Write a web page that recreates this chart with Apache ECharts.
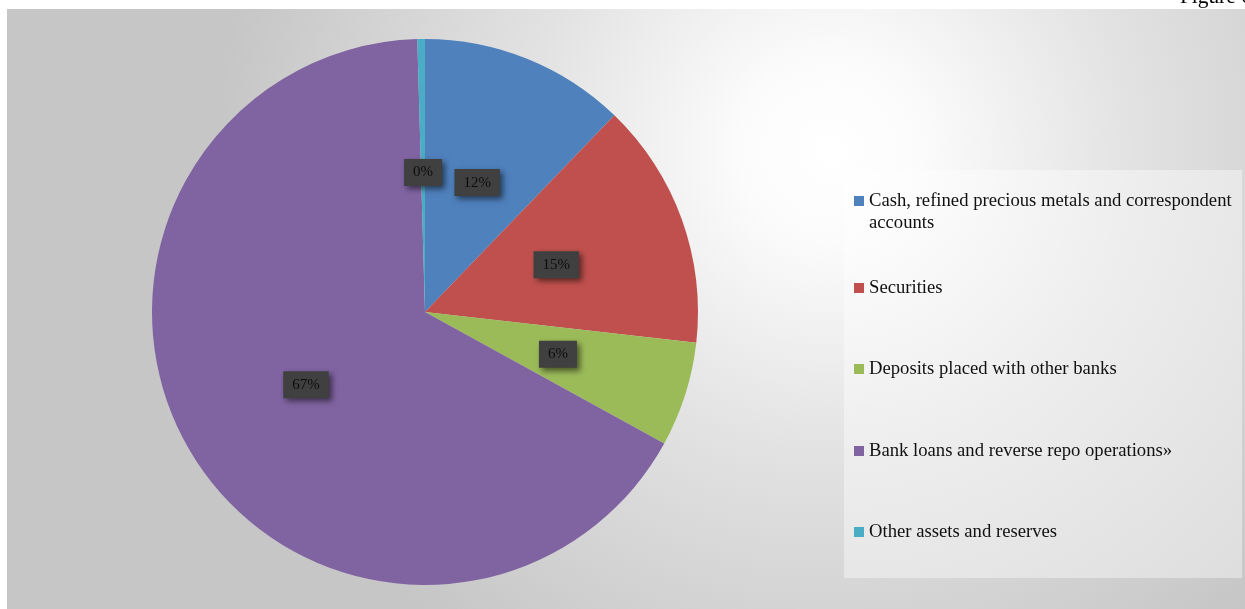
<!DOCTYPE html>
<html>
<head>
<meta charset="utf-8">
<script src="https://cdn.jsdelivr.net/npm/echarts@6/dist/echarts.min.js"></script>
<style>
  html, body { margin: 0; padding: 0; background: #ffffff; }
  #chart { width: 1245px; height: 609px; }
</style>
</head>
<body>
<div id="chart"></div>
<script>
// Asset structure categories and their shares (%)
const categories = [
  'Cash, refined precious metals and correspondent accounts',
  'Securities',
  'Deposits placed with other banks',
  'Bank loans and reverse repo operations»',
  'Other assets and reserves'
];
const shares = [12.2, 14.6, 6.2, 66.55, 0.45];
const sliceColors = ['#4f81bd', '#c0504d', '#9bbb59', '#8064a2', '#4bacc6'];
const figureTitle = 'Figure 6';

const serif = '"Liberation Serif", "DejaVu Serif", serif';
const legendTops = [190, 277, 358, 440, 521];

const chart = echarts.init(document.getElementById('chart'), null, { renderer: 'canvas' });

// One legend block per entry; the first entry wraps onto two lines, so its
// icon path carries extra empty height to keep the square level with line one.
const legends = categories.map((name, i) => ({
  orient: 'vertical',
  left: 854,
  top: legendTops[i],
  padding: 0,
  itemWidth: 10,
  itemHeight: i === 0 ? 42 : 10,
  icon: i === 0 ? 'path://M0,0M0,5h10v10h-10zM10,42' : 'rect',
  selectedMode: false,
  data: [name],
  textStyle: {
    fontFamily: serif,
    fontSize: 18.67,
    lineHeight: 22,
    color: '#111111',
    width: 372,
    overflow: 'break'
  }
}));

chart.setOption({
  animation: false,
  graphic: [
    {
      type: 'rect',
      z: -10,
      shape: { x: 7, y: 9, width: 1238, height: 600 },
      style: {
        fill: new echarts.graphic.RadialGradient(830, 150, 610, [
          { offset: 0, color: '#ffffff' },
          { offset: 0.15, color: '#fbfbfb' },
          { offset: 0.5, color: '#e2e2e2' },
          { offset: 1, color: '#c6c6c6' }
        ], true)
      },
      silent: true
    },
    {
      type: 'rect',
      z: -5,
      shape: { x: 844, y: 170, width: 398, height: 408 },
      style: { fill: 'rgba(255,255,255,0.4)' },
      silent: true
    },
    {
      type: 'text',
      left: 1180,
      top: -13,
      style: {
        text: figureTitle,
        fontFamily: serif,
        fontSize: 21.33,
        fill: '#000000'
      },
      silent: true
    }
  ],
  color: sliceColors,
  legend: legends,
  series: [{
    type: 'pie',
    center: [425, 312],
    radius: 273,
    startAngle: 90,
    clockwise: true,
    percentPrecision: 0,
    avoidLabelOverlap: false,
    silent: true,
    itemStyle: { borderWidth: 0 },
    label: {
      show: true,
      position: 'inside',
      formatter: '{d}%',
      fontFamily: serif,
      fontSize: 15,
      lineHeight: 15,
      color: '#0d0d0d',
      backgroundColor: '#404040',
      padding: [6, 9],
      shadowColor: 'rgba(0,0,0,0.55)',
      shadowBlur: 6,
      shadowOffsetX: 3,
      shadowOffsetY: 3
    },
    labelLine: { show: false },
    data: categories.map((name, i) => ({ name, value: shares[i] }))
  }]
});
</script>
</body>
</html>
